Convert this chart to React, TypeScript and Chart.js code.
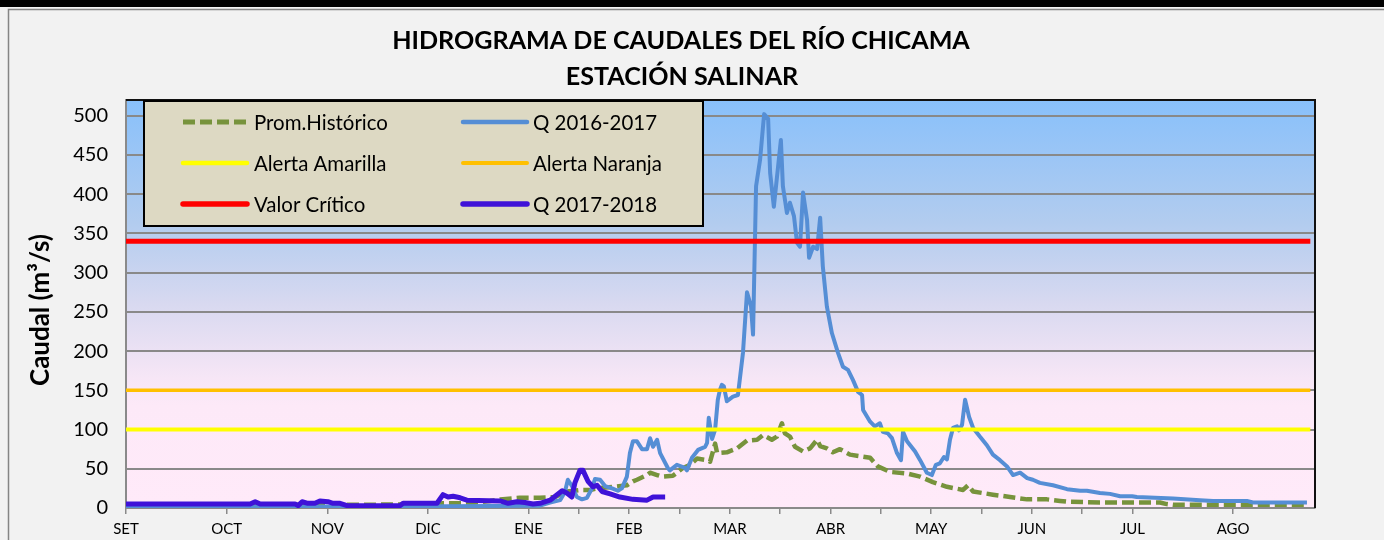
import { useEffect, useRef } from 'react';
import { Chart, registerables } from 'chart.js';

Chart.register(...registerables);

const W = 1384;
const H = 540;

// ---- axis definitions ----
const MONTHS = ['SET', 'OCT', 'NOV', 'DIC', 'ENE', 'FEB', 'MAR', 'ABR', 'MAY', 'JUN', 'JUL', 'AGO'];
const MONTH_LEN = 30; // x unit: day of the hydrological year (30-day months)
const MINOR_TICK_DAYS = [135, 165, 195, 225, 255, 285];
const X_MAX = 354.4;
const Y_TICKS = [0, 50, 100, 150, 200, 250, 300, 350, 400, 450, 500];
const Y_MAX = 520;

// ---- thresholds (m3/s) ----
const ALERTA_AMARILLA = 100;
const ALERTA_NARANJA = 150;
const VALOR_CRITICO = 340;
const THRESHOLD_END = 353;

// ---- series: [day, caudal] ----
const PROM_HISTORICO: [number, number][] = [
  [0, 4], [69.7, 4], [90.6, 5], [94.5, 6], [102.5, 6], [108.5, 9], [111.5, 11], [117.4, 13],
  [123.4, 13], [127.9, 14], [131.4, 21], [135.3, 23], [138.3, 23], [140.4, 25], [145.2, 27],
  [149.3, 29], [151.1, 34], [152.3, 36], [155.3, 42], [156.2, 45], [158.3, 42], [159.8, 40],
  [163, 41], [166, 51], [168.1, 55], [170.2, 63], [173.2, 61], [174.1, 59], [175.6, 82],
  [176.2, 70], [179.1, 71], [182.1, 76], [185.1, 86], [188.1, 87], [189.9, 93], [192.5, 87],
  [194, 91], [195.5, 108], [196.4, 95], [197.9, 91], [199.4, 78], [201.8, 72], [203.9, 76],
  [206, 87], [206.9, 79], [208.9, 76], [210.7, 71], [212.8, 75], [215.8, 68], [218.8, 66],
  [221.8, 64], [224.1, 53], [227.7, 46], [232.8, 44], [236.7, 40], [240.5, 33], [244.7, 27],
  [249.5, 23], [251, 29], [252.5, 21], [258.4, 17], [263.5, 14], [268.6, 11], [274.5, 11],
  [278.4, 9], [280.5, 8], [290.3, 7], [308.2, 7], [310.2, 5], [312.1, 4], [352, 4],
];

const Q_2016_2017: [number, number][] = [
  [0, 2], [81.7, 2], [123.4, 3], [126.4, 7], [129.4, 10], [130.8, 20], [131.7, 36], [132.9, 28],
  [134.4, 14], [135.9, 11], [137.4, 13], [138.9, 25], [139.8, 37], [141.3, 36], [142.8, 28],
  [144.9, 25], [146.6, 22], [147.8, 25], [149.3, 40], [150.2, 70], [151.1, 85], [152.3, 85],
  [153.8, 75], [155.3, 75], [156.2, 89], [157.1, 78], [158.3, 87], [159.2, 70], [161.5, 51],
  [162.1, 48], [164.2, 55], [166.6, 51], [167.2, 48], [168.7, 64], [170.5, 74], [172.6, 78],
  [173.2, 83], [173.7, 115], [174.7, 88], [175.6, 100], [176.4, 138], [177, 150], [177.6, 157],
  [178.2, 155], [179.1, 136], [180.9, 142], [182.4, 144], [183.9, 198], [185.1, 275],
  [186.3, 257], [186.9, 221], [187.8, 410], [189, 444], [190.2, 502], [191.4, 496], [192, 427],
  [193.1, 384], [195.2, 469], [195.8, 410], [197, 376], [197.9, 389], [199.1, 372], [200, 338],
  [200.9, 333], [201.8, 402], [203, 367], [203.6, 319], [204.8, 333], [206, 330], [206.9, 370],
  [207.7, 308], [208.9, 257], [210.4, 223], [212.2, 198], [213.7, 180], [215.2, 176],
  [216.7, 163], [218.2, 148], [219.4, 144], [219.7, 125], [221.8, 110], [223.2, 104],
  [224.7, 108], [225.6, 97], [227.1, 95], [228.3, 89], [229.8, 70], [231, 61], [231.6, 97],
  [232.8, 85], [235.2, 72], [236.7, 61], [238.7, 45], [240.2, 42], [241.4, 55], [242.6, 57],
  [243.8, 65], [244.7, 62], [245.6, 87], [246.5, 102], [247.7, 104], [248.3, 99], [249.2, 106],
  [250.1, 138], [251.3, 116], [252.5, 102], [254.5, 91], [256.6, 80], [258.4, 68], [260.5, 61],
  [262.6, 53], [264.4, 42], [266.5, 45], [268.6, 38], [270.3, 36], [272.4, 32], [276.3, 29],
  [280.5, 24], [284.4, 22], [286.4, 22], [290.3, 19], [293.3, 18], [296.3, 15], [299.9, 15],
  [301.3, 14], [312.1, 12], [320.1, 10], [324, 9], [334.1, 9], [335.9, 7], [352, 7],
];

const Q_2017_2018: [number, number][] = [
  [0, 5], [37, 5], [38.5, 8], [40, 5], [50.4, 5], [51.3, 3], [52.5, 8], [54.2, 6], [56.3, 6],
  [57.8, 9], [60.2, 8], [61.7, 6], [63.8, 6], [65.9, 3], [81.7, 3], [82.6, 6], [92.7, 6],
  [94.5, 17], [96, 14], [97.5, 15], [99.6, 13], [101.6, 10], [111.5, 9], [113.9, 6],
  [116.5, 8], [118.9, 7], [121.3, 5], [123.4, 6], [126.4, 10], [130, 22], [131.4, 19],
  [132.9, 14], [133.8, 32], [135.3, 48], [136.2, 48], [137.7, 34], [139.2, 27], [140.4, 29],
  [141.9, 21], [144.3, 18], [147.2, 14], [151.1, 11], [155.3, 10], [157.1, 14], [160.7, 14],
];

const LEGEND_ORDER = ['Prom.Histórico', 'Q 2016-2017', 'Alerta Amarilla', 'Alerta Naranja', 'Valor Crítico', 'Q 2017-2018'];

const toXY = (p: [number, number][]) => p.map(([x, y]) => ({ x, y }));
const level = (v: number) => [{ x: 0, y: v }, { x: THRESHOLD_END, y: v }];

const FONT = 'Lato, "Open Sans", sans-serif';

function fitSize(ctx: CanvasRenderingContext2D, text: string, weight: string, target: number) {
  ctx.font = `${weight} 100px ${FONT}`;
  const w = ctx.measureText(text).width;
  return (100 * target) / w;
}

const decor = {
  id: 'decor',
  beforeDraw(chart: any) {
    const { ctx, chartArea: a } = chart;
    ctx.save();
    ctx.fillStyle = '#f2f2f2';
    ctx.fillRect(0, 0, W, H);
    ctx.fillStyle = '#000';
    ctx.fillRect(0, 0, W, 7);
    ctx.strokeStyle = '#858585';
    ctx.lineWidth = 1.5;
    ctx.beginPath();
    ctx.moveTo(8.5, H);
    ctx.lineTo(8.5, 9.5);
    ctx.lineTo(W, 9.5);
    ctx.stroke();
    const g = ctx.createLinearGradient(0, a.top, 0, a.bottom);
    g.addColorStop(0, '#88c0fb');
    g.addColorStop(0.3, '#b2ccef');
    g.addColorStop(0.5, '#d8d9f0');
    g.addColorStop(0.68, '#f6e6f6');
    g.addColorStop(0.75, '#fde9f8');
    g.addColorStop(1, '#ffeaf9');
    ctx.fillStyle = g;
    ctx.fillRect(a.left, a.top, a.right - a.left, a.bottom - a.top);
    ctx.restore();
  },
  afterDatasetsDraw(chart: any) {
    const { ctx, chartArea: a } = chart;
    ctx.save();
    // plot area frame (top/right)
    ctx.strokeStyle = '#111';
    ctx.lineWidth = 2;
    ctx.beginPath();
    ctx.moveTo(a.left, a.top);
    ctx.lineTo(a.right, a.top);
    ctx.lineTo(a.right, a.bottom);
    ctx.stroke();

    // legend box
    const bx = 144, by = 101, bw = 559, bh = 125;
    ctx.fillStyle = '#ddd9c3';
    ctx.fillRect(bx, by, bw, bh);
    ctx.strokeStyle = '#000';
    ctx.lineWidth = 2;
    ctx.strokeRect(bx, by, bw, bh);

    const size = fitSize(ctx, 'Prom.Histórico', '400', 134);
    ctx.font = `400 ${size}px ${FONT}`;
    ctx.textBaseline = 'middle';
    ctx.textAlign = 'left';
    const rows = [122, 163, 204];
    const cols = [{ l0: 183, l1: 247, t: 254 }, { l0: 463, l1: 527, t: 533 }];
    LEGEND_ORDER.forEach((label, i) => {
      const ds = chart.data.datasets.find((d: any) => d.label === label);
      const y = rows[Math.floor(i / 2)];
      const c = cols[i % 2];
      ctx.strokeStyle = ds.borderColor;
      ctx.lineWidth = ds.borderWidth + 0.5;
      ctx.setLineDash(ds.borderDash || []);
      ctx.lineCap = ds.borderDash ? 'butt' : 'round';
      ctx.beginPath();
      ctx.moveTo(c.l0, y);
      ctx.lineTo(c.l1, y);
      ctx.stroke();
      ctx.setLineDash([]);
      ctx.fillStyle = '#000';
      ctx.fillText(label, c.t, y + 1);
    });
    ctx.restore();
  },
  afterDraw(chart: any) {
    const { ctx } = chart;
    ctx.save();
    ctx.fillStyle = '#000';
    ctx.textAlign = 'center';
    ctx.textBaseline = 'middle';
    const line1 = 'HIDROGRAMA DE CAUDALES DEL RÍO CHICAMA';
    const line2 = 'ESTACIÓN SALINAR';
    const ts = fitSize(ctx, line1, '700', 578);
    ctx.font = `700 ${ts}px ${FONT}`;
    ctx.fillText(line1, 681, 41);
    ctx.fillText(line2, 682, 77);

    const ys = fitSize(ctx, 'Caudal (m³/s)', '700', 152);
    ctx.font = `700 ${ys}px ${FONT}`;
    ctx.translate(41, 310);
    ctx.rotate(-Math.PI / 2);
    ctx.fillText('Caudal (m³/s)', 0, 0);
    ctx.restore();
  },
};

const common = {
  pointRadius: 0,
  pointHoverRadius: 0,
  fill: false,
  tension: 0,
  borderJoinStyle: 'round' as const,
  borderCapStyle: 'butt' as const,
};

export default function App() {
  const ref = useRef<HTMLCanvasElement | null>(null);

  useEffect(() => {
    if (!ref.current) return;
    const chart = new Chart(ref.current, {
      type: 'line',
      data: {
        datasets: [
          { ...common, label: 'Q 2017-2018', data: toXY(Q_2017_2018), borderColor: '#3f12d8', borderWidth: 5 },
          { ...common, label: 'Valor Crítico', data: level(VALOR_CRITICO), borderColor: '#ff0000', borderWidth: 5 },
          { ...common, label: 'Alerta Naranja', data: level(ALERTA_NARANJA), borderColor: '#ffc000', borderWidth: 3.5 },
          { ...common, label: 'Alerta Amarilla', data: level(ALERTA_AMARILLA), borderColor: '#ffff00', borderWidth: 4 },
          { ...common, label: 'Q 2016-2017', data: toXY(Q_2016_2017), borderColor: '#558ed5', borderWidth: 4 },
          { ...common, label: 'Prom.Histórico', data: toXY(PROM_HISTORICO), borderColor: '#77933c', borderWidth: 4.5, borderDash: [12, 5] },
        ],
      },
      options: {
        responsive: false,
        animation: false,
        devicePixelRatio: 1,
        layout: { padding: { left: 0, right: 69, top: 100, bottom: 0 } },
        plugins: {
          legend: { display: false },
          tooltip: { enabled: false },
          title: { display: false },
        },
        scales: {
          x: {
            type: 'linear',
            min: 0,
            max: X_MAX,
            afterBuildTicks: (scale: any) => {
              const vals = [...MONTHS.map((_, i) => i * MONTH_LEN), ...MINOR_TICK_DAYS].sort((p, q) => p - q);
              scale.ticks = vals.map((v) => ({ value: v }));
            },
            afterFit: (scale: any) => {
              scale.height = 32;
            },
            ticks: {
              autoSkip: false,
              maxRotation: 0,
              padding: 6,
              color: '#000',
              font: { family: FONT, size: 15 },
              callback: (value: any) => {
                const i = Number(value) / MONTH_LEN;
                return Number.isInteger(i) && i < MONTHS.length ? MONTHS[i] : '';
              },
            },
            grid: { drawOnChartArea: false, drawTicks: true, tickLength: 6, color: '#8a8a8a', lineWidth: 1.5 },
            border: { display: true, color: '#8a8a8a', width: 2 },
          },
          y: {
            min: 0,
            max: Y_MAX,
            afterBuildTicks: (scale: any) => {
              scale.ticks = Y_TICKS.map((v) => ({ value: v }));
            },
            afterFit: (scale: any) => {
              scale.width = 126;
            },
            ticks: {
              padding: 18,
              color: '#000',
              font: { family: FONT, size: 20 },
            },
            grid: { drawTicks: false, color: '#898989', lineWidth: 2 },
            border: { display: true, color: '#8a8a8a', width: 2 },
          },
        },
      },
      plugins: [decor],
    });
    return () => chart.destroy();
  }, []);

  return (
    <div style={{ position: 'absolute', left: 0, top: 0, width: W, height: H }}>
      <canvas ref={ref} width={W} height={H} style={{ display: 'block', width: W, height: H }} />
    </div>
  );
}
